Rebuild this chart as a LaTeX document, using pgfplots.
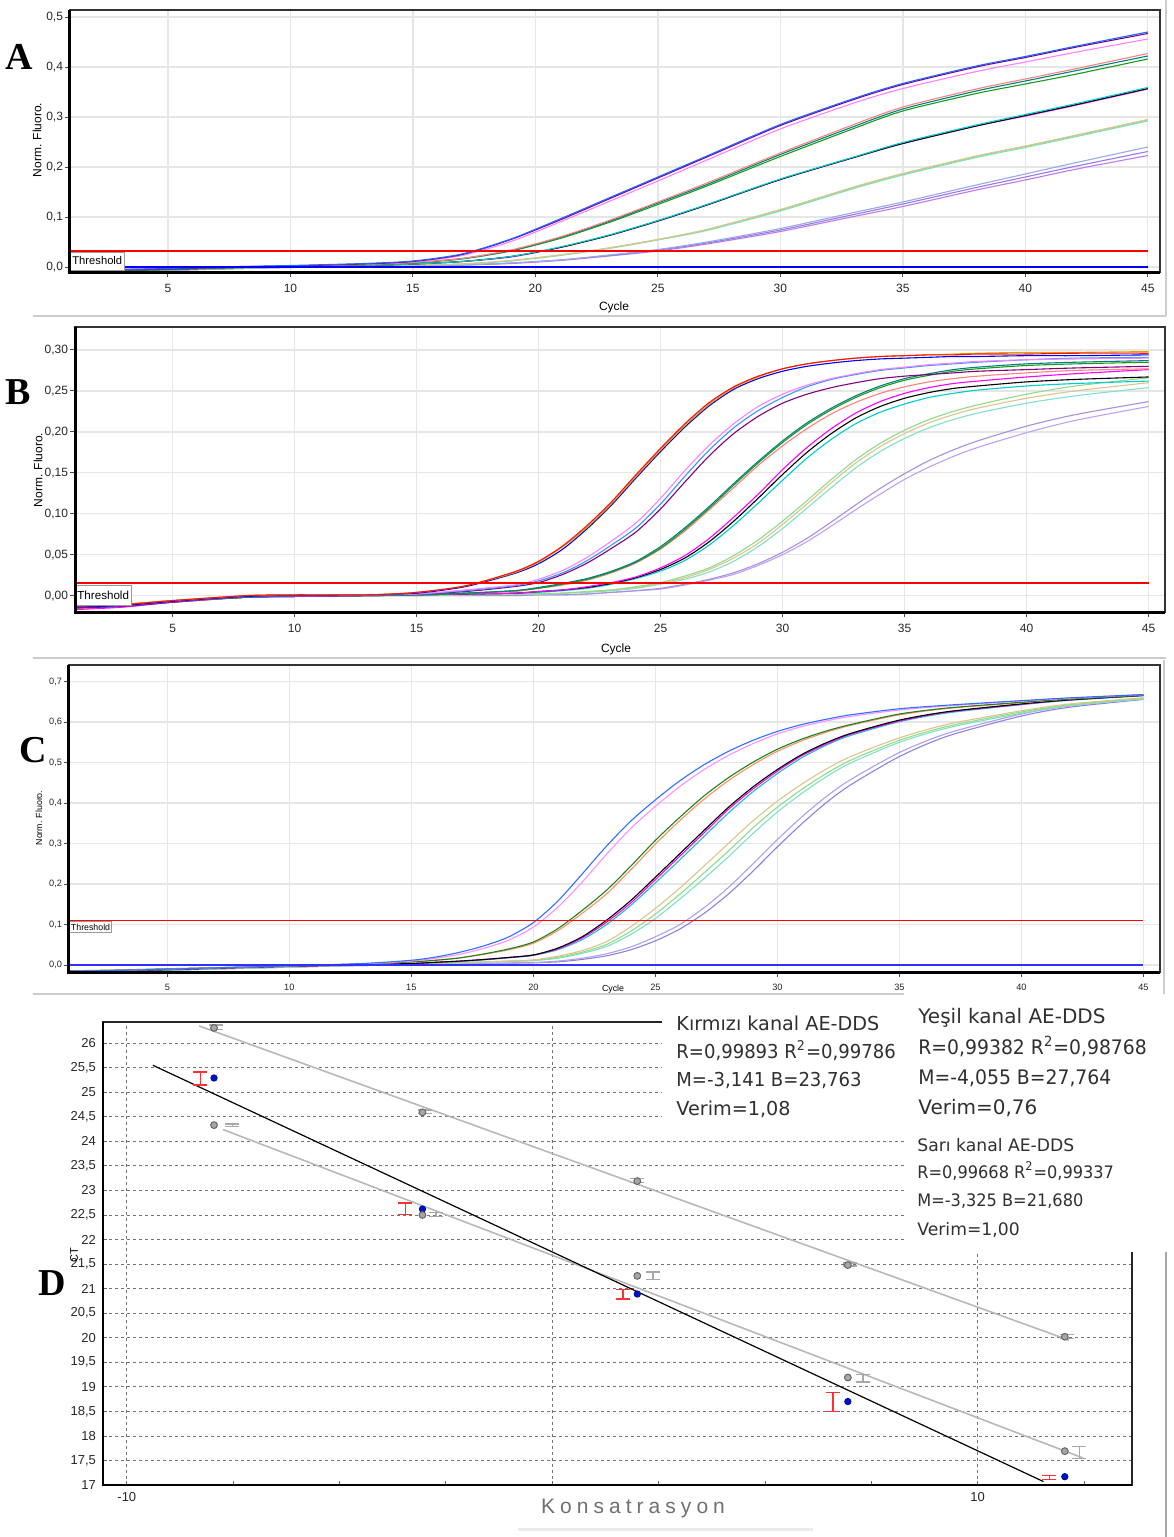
\documentclass[border=0pt]{standalone}
\usepackage{fontspec}
\setmainfont{Liberation Sans}
\newfontfamily\serifbf{Liberation Serif}
\newfontfamily\dejavu{DejaVu Sans}
\newfontfamily\dejavuc{DejaVu Sans}[FakeStretch=0.94]
\newfontfamily\konsfont{Liberation Sans}[LetterSpace=24]
\usepackage{pgfplots}
\usepackage{pgfplotstable}
\pgfplotsset{compat=1.18}

\definecolor{gridgray}{HTML}{E6E6E6}
\definecolor{thr}{RGB}{255,0,0}
% panel A
\definecolor{aBlue}{HTML}{1E64FF}\definecolor{aPurple}{HTML}{800080}\definecolor{aPink}{HTML}{FF80FF}
\definecolor{bSalmon}{HTML}{FF8080}\definecolor{bTeal}{HTML}{008080}\definecolor{bGreen}{HTML}{1A9A1A}
\definecolor{cCyan}{HTML}{00CCCC}\definecolor{cMag}{HTML}{FF00FF}
\definecolor{dTan}{HTML}{DCC48C}\definecolor{dLGreen}{HTML}{8CDC8C}\definecolor{dAqua}{HTML}{80E0C8}
\definecolor{eLBlue}{HTML}{96AAE6}\definecolor{eMPurple}{HTML}{9A78DC}\definecolor{eViolet}{HTML}{BE78F0}
% panel B
\definecolor{rRed}{HTML}{FF1010}\definecolor{rGold}{HTML}{D4A800}\definecolor{rBlue}{HTML}{0000FF}\definecolor{pDodger}{HTML}{3399FF}
\definecolor{lLav}{HTML}{A890E0}\definecolor{lPlum}{HTML}{C0A0F0}
% panel C
\definecolor{gaBlue}{HTML}{3070FF}\definecolor{gbPink}{HTML}{FF90FF}\definecolor{haGreen}{HTML}{208020}
\definecolor{hbSalmon}{HTML}{FF9060}\definecolor{icCyan}{HTML}{20C0C0}\definecolor{kaLav}{HTML}{B0A0E8}
\definecolor{kbMP}{HTML}{9080E0}\definecolor{ntc}{HTML}{3030FF}
% panel D
\definecolor{lineGray}{HTML}{B8B8B8}\definecolor{errRed}{HTML}{FF3030}\definecolor{errGray}{HTML}{A8A8A8}
\definecolor{ptBlue}{HTML}{0010D0}\definecolor{konsGray}{HTML}{707070}\definecolor{txtGray}{HTML}{303030}

\pgfplotstableread{
x a1 a2 a3 b1 b2 b3 c1 c2 c3 d1 d2 d3 e1 e2 e3
1 -0.006 -0.007 -0.005 -0.006 -0.007 -0.008 -0.007 -0.008 -0.006 -0.008 -0.009 -0.007 -0.009 -0.010 -0.008
3 -0.005 -0.006 -0.004 -0.005 -0.006 -0.007 -0.006 -0.007 -0.005 -0.007 -0.008 -0.006 -0.008 -0.009 -0.007
5 -0.003 -0.004 -0.003 -0.003 -0.004 -0.005 -0.004 -0.005 -0.004 -0.005 -0.006 -0.005 -0.006 -0.007 -0.006
8 0.001 0.000 0.001 0.000 0.000 -0.001 -0.001 -0.001 0.000 -0.002 -0.002 -0.001 -0.003 -0.003 -0.002
10 0.003 0.002 0.002 0.002 0.002 0.001 0.001 0.001 0.001 0.000 0.000 0.001 -0.001 -0.001 0.000
13 0.007 0.006 0.006 0.005 0.005 0.004 0.003 0.003 0.003 0.002 0.002 0.002 0.001 0.001 0.001
15 0.012 0.011 0.010 0.009 0.009 0.008 0.006 0.006 0.006 0.004 0.004 0.004 0.002 0.002 0.002
17 0.026 0.025 0.023 0.017 0.017 0.016 0.011 0.011 0.011 0.006 0.006 0.006 0.004 0.004 0.004
19 0.056 0.055 0.051 0.034 0.033 0.032 0.021 0.021 0.020 0.013 0.013 0.012 0.008 0.008 0.007
21 0.096 0.094 0.090 0.060 0.059 0.057 0.040 0.039 0.039 0.024 0.024 0.023 0.014 0.014 0.013
23 0.138 0.136 0.131 0.093 0.091 0.089 0.064 0.063 0.063 0.038 0.038 0.037 0.024 0.023 0.022
25 0.180 0.178 0.172 0.130 0.128 0.125 0.093 0.092 0.092 0.055 0.055 0.054 0.035 0.034 0.032
27 0.222 0.220 0.214 0.168 0.165 0.162 0.125 0.124 0.124 0.075 0.075 0.073 0.050 0.048 0.046
30 0.285 0.283 0.276 0.228 0.225 0.221 0.176 0.175 0.175 0.115 0.114 0.112 0.077 0.074 0.071
33 0.337 0.335 0.328 0.285 0.281 0.277 0.220 0.219 0.219 0.160 0.159 0.157 0.109 0.105 0.101
35 0.367 0.365 0.357 0.320 0.316 0.312 0.249 0.247 0.247 0.187 0.186 0.184 0.130 0.126 0.121
38 0.402 0.400 0.391 0.356 0.352 0.347 0.284 0.282 0.282 0.222 0.221 0.219 0.164 0.159 0.154
40 0.421 0.419 0.410 0.376 0.372 0.366 0.305 0.303 0.302 0.242 0.241 0.239 0.186 0.180 0.174
42 0.441 0.439 0.429 0.396 0.392 0.385 0.326 0.324 0.323 0.263 0.262 0.260 0.208 0.201 0.195
45 0.470 0.467 0.456 0.427 0.422 0.416 0.359 0.357 0.356 0.295 0.294 0.292 0.240 0.231 0.223
}\tabA

\pgfplotstableread{
x r1 r2 r3 p1 p2 p3 t1 t2 t3 m1 m2 m3 l1 l2 l3 v1 v2
1 -0.013 -0.012 -0.014 -0.013 -0.014 -0.015 -0.015 -0.014 -0.016 -0.017 -0.016 -0.015 -0.014 -0.013 -0.015 -0.015 -0.016
3 -0.011 -0.010 -0.012 -0.012 -0.012 -0.013 -0.012 -0.012 -0.013 -0.014 -0.013 -0.012 -0.011 -0.011 -0.012 -0.012 -0.013
5 -0.006 -0.006 -0.007 -0.007 -0.007 -0.008 -0.007 -0.007 -0.008 -0.008 -0.008 -0.007 -0.006 -0.006 -0.007 -0.007 -0.007
8 0.000 0.000 -0.001 -0.001 -0.001 -0.001 -0.002 -0.002 -0.002 -0.002 -0.002 -0.002 -0.002 -0.002 -0.002 -0.002 -0.002
10 0.001 0.001 0.000 0.000 0.000 0.000 0.000 0.000 0.000 -0.001 -0.001 -0.001 -0.001 -0.001 -0.001 -0.001 -0.001
13 0.001 0.001 0.001 0.001 0.001 0.001 0.000 0.000 0.000 0.000 0.000 0.000 0.000 0.000 0.000 0.000 0.000
15 0.004 0.004 0.003 0.002 0.002 0.002 0.001 0.001 0.001 0.001 0.001 0.001 0.000 0.000 0.000 0.000 0.000
17 0.012 0.012 0.011 0.007 0.006 0.005 0.003 0.003 0.003 0.002 0.002 0.002 0.001 0.001 0.001 0.000 0.000
19 0.029 0.028 0.027 0.013 0.012 0.011 0.006 0.006 0.005 0.003 0.003 0.003 0.002 0.002 0.002 0.000 0.000
20 0.042 0.041 0.039 0.020 0.018 0.016 0.010 0.009 0.009 0.005 0.005 0.004 0.002 0.002 0.002 0.001 0.001
21 0.061 0.060 0.057 0.031 0.028 0.026 0.015 0.014 0.013 0.007 0.007 0.006 0.003 0.003 0.003 0.001 0.001
22 0.086 0.084 0.082 0.047 0.043 0.040 0.021 0.020 0.019 0.011 0.010 0.009 0.005 0.004 0.005 0.002 0.002
23 0.115 0.113 0.111 0.067 0.062 0.058 0.030 0.029 0.028 0.016 0.015 0.014 0.007 0.006 0.007 0.004 0.004
24 0.148 0.146 0.144 0.089 0.083 0.078 0.042 0.041 0.040 0.023 0.022 0.021 0.011 0.009 0.010 0.006 0.006
25 0.180 0.178 0.176 0.119 0.112 0.106 0.060 0.058 0.057 0.034 0.032 0.030 0.016 0.014 0.015 0.009 0.008
26 0.210 0.208 0.206 0.153 0.146 0.139 0.083 0.081 0.079 0.049 0.046 0.043 0.024 0.020 0.022 0.014 0.013
27 0.236 0.234 0.232 0.184 0.178 0.171 0.109 0.107 0.105 0.070 0.066 0.062 0.034 0.029 0.032 0.020 0.019
28 0.255 0.254 0.252 0.210 0.205 0.198 0.137 0.135 0.132 0.096 0.091 0.086 0.049 0.042 0.046 0.028 0.026
29 0.268 0.267 0.265 0.231 0.226 0.219 0.164 0.162 0.159 0.124 0.119 0.113 0.068 0.060 0.064 0.039 0.037
30 0.277 0.277 0.274 0.246 0.242 0.235 0.189 0.187 0.183 0.154 0.148 0.141 0.091 0.082 0.087 0.053 0.050
31 0.283 0.283 0.280 0.257 0.255 0.246 0.211 0.209 0.204 0.181 0.175 0.168 0.116 0.107 0.112 0.070 0.066
32 0.287 0.287 0.284 0.265 0.264 0.254 0.229 0.227 0.222 0.204 0.198 0.191 0.142 0.132 0.138 0.090 0.085
33 0.290 0.290 0.287 0.271 0.270 0.260 0.244 0.242 0.236 0.223 0.217 0.210 0.166 0.156 0.162 0.111 0.105
34 0.292 0.292 0.289 0.276 0.275 0.265 0.256 0.254 0.247 0.237 0.231 0.224 0.186 0.176 0.182 0.131 0.124
35 0.293 0.293 0.290 0.279 0.278 0.268 0.265 0.263 0.255 0.247 0.241 0.234 0.202 0.192 0.198 0.149 0.142
36 0.294 0.294 0.291 0.282 0.281 0.270 0.271 0.269 0.261 0.254 0.248 0.242 0.215 0.205 0.211 0.165 0.157
37 0.294 0.295 0.292 0.284 0.283 0.272 0.276 0.274 0.265 0.259 0.253 0.247 0.225 0.215 0.221 0.178 0.170
38 0.295 0.296 0.292 0.286 0.285 0.274 0.279 0.277 0.268 0.262 0.256 0.251 0.233 0.223 0.229 0.189 0.181
40 0.295 0.297 0.293 0.288 0.288 0.276 0.283 0.281 0.272 0.267 0.261 0.256 0.246 0.235 0.241 0.207 0.199
42 0.296 0.297 0.293 0.289 0.290 0.278 0.285 0.283 0.275 0.271 0.264 0.259 0.256 0.244 0.250 0.221 0.214
45 0.296 0.298 0.294 0.290 0.291 0.280 0.287 0.285 0.277 0.276 0.267 0.262 0.266 0.254 0.260 0.237 0.231
}\tabB

\pgfplotstableread{
x ga gb ha hb ia ib ic ja jb jc ka kb
1 -0.015 -0.015 -0.014 -0.015 -0.016 -0.016 -0.017 -0.016 -0.017 -0.017 -0.017 -0.018
3 -0.013 -0.013 -0.012 -0.013 -0.014 -0.014 -0.015 -0.014 -0.015 -0.015 -0.015 -0.016
5 -0.010 -0.010 -0.009 -0.010 -0.011 -0.011 -0.012 -0.011 -0.012 -0.012 -0.012 -0.013
8 -0.005 -0.005 -0.005 -0.005 -0.006 -0.006 -0.006 -0.007 -0.007 -0.008 -0.008 -0.008
10 -0.002 -0.002 -0.002 -0.002 -0.003 -0.003 -0.003 -0.004 -0.004 -0.005 -0.005 -0.005
13 0.004 0.003 0.003 0.003 0.001 0.001 0.001 0.000 0.000 0.000 -0.001 -0.001
15 0.012 0.010 0.008 0.008 0.004 0.004 0.004 0.002 0.002 0.002 0.000 0.000
16 0.020 0.017 0.012 0.012 0.007 0.007 0.006 0.004 0.004 0.003 0.002 0.002
17 0.032 0.027 0.018 0.018 0.010 0.010 0.009 0.006 0.006 0.005 0.003 0.003
18 0.048 0.042 0.028 0.027 0.014 0.014 0.013 0.008 0.008 0.007 0.004 0.004
19 0.070 0.062 0.040 0.038 0.019 0.019 0.018 0.010 0.010 0.009 0.005 0.005
20 0.105 0.094 0.057 0.054 0.025 0.025 0.024 0.013 0.012 0.011 0.006 0.006
21 0.158 0.143 0.090 0.085 0.042 0.040 0.038 0.022 0.019 0.017 0.010 0.008
22 0.225 0.205 0.135 0.128 0.070 0.067 0.063 0.036 0.032 0.029 0.017 0.014
23 0.294 0.274 0.185 0.176 0.111 0.106 0.100 0.058 0.051 0.046 0.028 0.023
24 0.356 0.338 0.245 0.236 0.160 0.154 0.148 0.095 0.084 0.076 0.045 0.038
25 0.408 0.392 0.308 0.299 0.217 0.211 0.203 0.140 0.126 0.115 0.070 0.060
26 0.455 0.441 0.365 0.357 0.275 0.269 0.260 0.190 0.175 0.163 0.100 0.089
27 0.495 0.483 0.418 0.410 0.333 0.327 0.318 0.245 0.228 0.214 0.142 0.128
28 0.528 0.518 0.463 0.456 0.390 0.385 0.376 0.301 0.282 0.268 0.192 0.176
29 0.555 0.547 0.501 0.495 0.440 0.435 0.428 0.356 0.339 0.325 0.250 0.232
30 0.577 0.571 0.533 0.528 0.483 0.479 0.473 0.405 0.390 0.378 0.310 0.292
31 0.594 0.589 0.558 0.554 0.520 0.517 0.512 0.447 0.434 0.424 0.366 0.349
32 0.607 0.603 0.578 0.575 0.549 0.546 0.543 0.484 0.473 0.465 0.416 0.401
33 0.618 0.614 0.594 0.592 0.572 0.570 0.567 0.515 0.506 0.499 0.458 0.445
35 0.633 0.630 0.620 0.618 0.605 0.603 0.601 0.561 0.555 0.550 0.525 0.515
37 0.642 0.640 0.635 0.634 0.626 0.625 0.623 0.595 0.590 0.586 0.573 0.566
40 0.653 0.652 0.649 0.648 0.645 0.644 0.643 0.628 0.625 0.622 0.620 0.615
42 0.660 0.659 0.657 0.657 0.655 0.655 0.654 0.645 0.643 0.641 0.640 0.637
45 0.668 0.668 0.667 0.667 0.666 0.666 0.665 0.660 0.659 0.657 0.658 0.656
}\tabC

\pgfplotsset{
  qpcr/.style={
    scale only axis, anchor=north west,
    axis line style={black!80, line width=0.6pt},
    grid=major, grid style={gridgray, line width=0.7pt},
    tick align=outside, xtick pos=left, ytick pos=left,
    major tick length=2.5pt, tick style={black!70, line width=0.5pt},
    tick label style={font=\fontsize{6}{7}\selectfont, text=black!85},
    yticklabel style={inner xsep=0.8pt},
    /pgf/number format/assume math mode=true,
    no markers, clip mode=individual,
    every axis plot/.append style={line width=0.55pt, smooth, tension=0.45},
  },
}

\begin{document}
\begin{tikzpicture}
\path[use as bounding box] (0pt,0pt) rectangle (586.5pt,-768.5pt);

% ---------------- Panel A ----------------
\begin{axis}[qpcr, at={(35pt,-5pt)}, width=545pt, height=131pt,
  xmin=1, xmax=45.5, ymin=-0.01, ymax=0.514,
  xtick={5,10,15,20,25,30,35,40,45},
  ytick={0,0.1,0.2,0.3,0.4,0.5},
  yticklabels={{0,0},{0,1},{0,2},{0,3},{0,4},{0,5}}]
\addplot[eViolet] table[x=x,y=e3]{\tabA};
\addplot[eMPurple] table[x=x,y=e2]{\tabA};
\addplot[eLBlue] table[x=x,y=e1]{\tabA};
\addplot[dAqua] table[x=x,y=d3]{\tabA};
\addplot[dLGreen] table[x=x,y=d2]{\tabA};
\addplot[dTan] table[x=x,y=d1]{\tabA};
\addplot[cMag] table[x=x,y=c3]{\tabA};
\addplot[black] table[x=x,y=c2]{\tabA};
\addplot[cCyan] table[x=x,y=c1]{\tabA};
\addplot[bGreen] table[x=x,y=b3]{\tabA};
\addplot[bTeal] table[x=x,y=b2]{\tabA};
\addplot[bSalmon] table[x=x,y=b1]{\tabA};
\addplot[aPink] table[x=x,y=a3]{\tabA};
\addplot[aPurple] table[x=x,y=a2]{\tabA};
\addplot[aBlue] table[x=x,y=a1]{\tabA};
\addplot[color=rBlue, line width=0.8pt, sharp plot] coordinates {(1,0) (45,0)};
\addplot[color=thr, line width=0.6pt, sharp plot] coordinates {(1,0.032) (45,0.032)};
\node[anchor=north west, draw=black!40, fill=white, inner sep=1pt, minimum height=9pt,
  font=\fontsize{5.6}{6}\selectfont] at (axis cs:1,0.031) {Threshold};
\draw[black, line width=1.5pt] (rel axis cs:0,1) -- (rel axis cs:0,0) -- (rel axis cs:1,0);
\end{axis}

% ---------------- Panel B ----------------
\begin{axis}[qpcr, at={(37.5pt,-163.5pt)}, width=545pt, height=142.5pt,
  xmin=1, xmax=45.67, ymin=-0.02, ymax=0.328,
  xtick={5,10,15,20,25,30,35,40,45},
  ytick={0,0.05,0.1,0.15,0.2,0.25,0.3},
  yticklabels={{0,00},{0,05},{0,10},{0,15},{0,20},{0,25},{0,30}}]
\addplot[lPlum] table[x=x,y=v2]{\tabB};
\addplot[lLav] table[x=x,y=v1]{\tabB};
\addplot[dAqua] table[x=x,y=l2]{\tabB};
\addplot[dTan] table[x=x,y=l3]{\tabB};
\addplot[dLGreen] table[x=x,y=l1]{\tabB};
\addplot[cCyan] table[x=x,y=m3]{\tabB};
\addplot[black] table[x=x,y=m2]{\tabB};
\addplot[cMag] table[x=x,y=m1]{\tabB};
\addplot[bSalmon] table[x=x,y=t3]{\tabB};
\addplot[bGreen] table[x=x,y=t2]{\tabB};
\addplot[bTeal] table[x=x,y=t1]{\tabB};
\addplot[aPurple] table[x=x,y=p3]{\tabB};
\addplot[pDodger] table[x=x,y=p2]{\tabB};
\addplot[aPink] table[x=x,y=p1]{\tabB};
\addplot[rBlue] table[x=x,y=r3]{\tabB};
\addplot[rGold] table[x=x,y=r2]{\tabB};
\addplot[rRed] table[x=x,y=r1]{\tabB};
\addplot[color=thr, line width=0.9pt, sharp plot] coordinates {(1,0.0155) (45,0.0155)};
\node[anchor=north west, draw=black!40, fill=white, inner sep=1pt, minimum height=10pt,
  font=\fontsize{5.8}{6}\selectfont] at (axis cs:1,0.0135) {Threshold};
\draw[black, line width=1.5pt] (rel axis cs:0,1) -- (rel axis cs:0,0) -- (rel axis cs:1,0);
\end{axis}

% ---------------- Panel C ----------------
\begin{axis}[qpcr, at={(34.5pt,-332.5pt)}, width=545.5pt, height=153.5pt,
  xmin=0.97, xmax=45.68, ymin=-0.017, ymax=0.741,
  xtick={5,10,15,20,25,30,35,40,45},
  ytick={0,0.1,0.2,0.3,0.4,0.5,0.6,0.7},
  yticklabels={{0,0},{0,1},{0,2},{0,3},{0,4},{0,5},{0,6},{0,7}},
  tick label style={font=\fontsize{4.6}{5}\selectfont, text=black!85}]
\addplot[kbMP] table[x=x,y=kb]{\tabC};
\addplot[kaLav] table[x=x,y=ka]{\tabC};
\addplot[dAqua] table[x=x,y=jc]{\tabC};
\addplot[dLGreen] table[x=x,y=jb]{\tabC};
\addplot[dTan] table[x=x,y=ja]{\tabC};
\addplot[icCyan] table[x=x,y=ic]{\tabC};
\addplot[cMag] table[x=x,y=ib]{\tabC};
\addplot[black] table[x=x,y=ia]{\tabC};
\addplot[hbSalmon] table[x=x,y=hb]{\tabC};
\addplot[haGreen] table[x=x,y=ha]{\tabC};
\addplot[gbPink] table[x=x,y=gb]{\tabC};
\addplot[gaBlue] table[x=x,y=ga]{\tabC};
\addplot[color=ntc, line width=0.7pt, sharp plot] coordinates {(1,0) (45,0)};
\addplot[color=thr, line width=0.5pt, sharp plot] coordinates {(1,0.111) (45,0.111)};
\node[anchor=north west, draw=black!40, fill=white, inner sep=0.8pt, minimum height=5.5pt,
  font=\fontsize{4.4}{5}\selectfont] at (axis cs:0.97,0.109) {Threshold};
\draw[black, line width=1.5pt] (rel axis cs:0,1) -- (rel axis cs:0,0) -- (rel axis cs:1,0);
\end{axis}

% ---------------- Panel D ----------------
\begin{axis}[scale only axis, anchor=north west, at={(51.5pt,-511pt)}, width=514.5pt, height=231.5pt,
  xmin=-10.56, xmax=13.63, ymin=17, ymax=26.43,
  axis line style={black!85, line width=0.8pt},
  xtick={-10,0,10}, xticklabels={-10,,10},
  minor xtick={-7.5,-5,-2.5,2.5,5,7.5,12.5},
  ytick={17,17.5,18,18.5,19,19.5,20,20.5,21,21.5,22,22.5,23,23.5,24,24.5,25,25.5,26},
  yticklabels={{17},{17,5},{18},{18,5},{19},{19,5},{20},{20,5},{21},{21,5},{22},{22,5},{23},{23,5},{24},{24,5},{25},{25,5},{26}},
  xmajorgrids, ymajorgrids,
  grid style={black!55, line width=0.4pt, dash pattern=on 1.6pt off 1.4pt},
  tick align=inside, xtick pos=left, ytick pos=left,
  major tick length=2pt, minor tick length=2pt,
  tick style={black!60, line width=0.4pt},
  tick label style={font=\fontsize{6.5}{7}\selectfont, text=black!85},
  clip mode=individual]
\addplot[lineGray, line width=0.8pt] coordinates {(-8.3,26.35) (12.15,19.95)};
\addplot[lineGray, line width=0.8pt] coordinates {(-7.74,24.24) (12.48,17.55)};
\addplot[black, line width=0.6pt] coordinates {(-9.39,25.55) (11.55,17.07)};
% error bars, red channel
\addplot[draw=none, no markers, error bars/.cd, y dir=both, y explicit,
  error bar style={draw=errRed, solid, line width=0.7pt},
  error mark options={rotate=90, draw=errRed, mark size=3.5pt, line width=0.7pt}]
  coordinates {(-8.27,25.28) +- (0,0.13) (-3.45,22.625) +- (0,0.115) (1.66,20.885) +- (0,0.095) (6.6,18.69) +- (0,0.19) (11.69,17.155) +- (0,0.045)};
% error bars, yellow channel
\addplot[draw=none, no markers, error bars/.cd, y dir=both, y explicit,
  error bar style={draw=errGray, solid, line width=0.7pt},
  error mark options={rotate=90, draw=errGray, mark size=3.5pt, line width=0.7pt}]
  coordinates {(-7.52,24.33) +- (0,0.025) (-2.73,22.51) +- (0,0.04) (2.37,21.265) +- (0,0.075) (7.31,19.175) +- (0,0.075) (12.39,17.665) +- (0,0.125)};
% error bars, green channel
\addplot[draw=none, no markers, error bars/.cd, y dir=both, y explicit,
  error bar style={draw=errGray, solid, line width=0.6pt},
  error mark options={rotate=90, draw=errGray, mark size=3.5pt, line width=0.6pt}]
  coordinates {(-7.9,26.32) +- (0,0.05) (-3.0,24.6) +- (0,0.04) (2.0,23.2) +- (0,0.04) (7.0,21.49) +- (0,0.03) (12.1,20.03) +- (0,0.04)};
% points
\addplot[only marks, mark=*, mark size=1.6pt, mark options={fill=ptBlue, draw=ptBlue!70!black}]
  coordinates {(-7.95,25.29) (-3.05,22.62) (2,20.89) (6.95,18.70) (12.05,17.17)};
\addplot[only marks, mark=*, mark size=1.7pt, mark options={fill=gray!70, draw=black!60, line width=0.5pt}]
  coordinates {(-7.95,24.33) (-3.05,22.50) (2,21.26) (6.95,19.19) (12.05,17.69)};
\addplot[only marks, mark=*, mark size=1.7pt, mark options={fill=gray!70, draw=black!60, line width=0.5pt}]
  coordinates {(-7.95,26.31) (-3.05,24.59) (2,23.19) (6.95,21.48) (12.05,20.02)};
\draw[black, line width=1.0pt] (rel axis cs:0,1) -- (rel axis cs:0,0) -- (rel axis cs:1,0);
\end{axis}

% white boxes covering panel D top right
\fill[white] (331pt,-499pt) rectangle (586.5pt,-564pt);
\fill[white] (452.5pt,-564pt) rectangle (586.5pt,-626pt);

% equation texts
\begin{scope}[every node/.style={anchor=base west, inner sep=0pt, text=txtGray}]
\node[font=\dejavu\fontsize{9.6}{11}\selectfont] at (338pt,-515pt) {Kırmızı kanal AE-DDS};
\node[font=\dejavuc\fontsize{9.6}{11}\selectfont] at (338pt,-529pt) {R=0,99893 R\textsuperscript{2}=0,99786};
\node[font=\dejavuc\fontsize{9.6}{11}\selectfont] at (338pt,-543pt) {M=-3,141 B=23,763};
\node[font=\dejavu\fontsize{9.6}{11}\selectfont] at (338pt,-557.5pt) {Verim=1,08};
\node[font=\dejavu\fontsize{10}{11}\selectfont] at (459pt,-511.5pt) {Yeşil kanal AE-DDS};
\node[font=\dejavuc\fontsize{10}{11}\selectfont] at (459pt,-527pt) {R=0,99382 R\textsuperscript{2}=0,98768};
\node[font=\dejavuc\fontsize{10}{11}\selectfont] at (459pt,-542pt) {M=-4,055 B=27,764};
\node[font=\dejavu\fontsize{10}{11}\selectfont] at (459pt,-557pt) {Verim=0,76};
\node[font=\dejavu\fontsize{8.6}{10}\selectfont] at (458.5pt,-575.5pt) {Sarı kanal AE-DDS};
\node[font=\dejavuc\fontsize{8.6}{10}\selectfont] at (458.5pt,-589pt) {R=0,99668 R\textsuperscript{2}=0,99337};
\node[font=\dejavuc\fontsize{8.6}{10}\selectfont] at (458.5pt,-603pt) {M=-3,325 B=21,680};
\node[font=\dejavu\fontsize{8.6}{10}\selectfont] at (458.5pt,-617.5pt) {Verim=1,00};
\end{scope}

% separators
\draw[black!20, line width=0.8pt] (16.5pt,-158pt) -- (583pt,-158pt);
\draw[black!20, line width=0.8pt] (583pt,0pt) -- (583pt,-158pt);
\draw[black!20, line width=0.8pt] (16.5pt,-329pt) -- (583pt,-329pt);
\draw[black!20, line width=0.8pt] (16.5pt,-497pt) -- (452pt,-497pt);
\draw[black!20, line width=0.8pt] (582pt,-330pt) -- (582pt,-497pt);
\draw[black!35, line width=0.8pt] (583pt,-626pt) -- (583pt,-768.5pt);
\draw[black!8, line width=1.5pt] (259pt,-764.5pt) -- (406.5pt,-764.5pt);

% axis titles
\node[rotate=90, font=\fontsize{6}{7}\selectfont] at (18.5pt,-70pt) {Norm. Fluoro.};
\node[font=\fontsize{6}{7}\selectfont] at (307pt,-153.5pt) {Cycle};
\node[rotate=90, font=\fontsize{6}{7}\selectfont] at (19pt,-235pt) {Norm. Fluoro.};
\node[font=\fontsize{6}{7}\selectfont] at (308pt,-324.5pt) {Cycle};
\node[rotate=90, font=\fontsize{4.4}{5}\selectfont] at (19.5pt,-409pt) {Norm. Fluoro.};
\node[font=\fontsize{4.4}{5}\selectfont] at (306.5pt,-494.5pt) {Cycle};
\node[rotate=90, font=\fontsize{5.5}{6}\selectfont] at (37pt,-627.5pt) {CT};
\node[anchor=base, text=konsGray, font=\konsfont\fontsize{10.5}{12}\selectfont] at (316.5pt,-756.5pt) {Konsatrasyon};

% panel letters
\node[font=\serifbf\bfseries\fontsize{19}{19}\selectfont] at (9.5pt,-28.5pt) {A};
\node[font=\serifbf\bfseries\fontsize{19}{19}\selectfont] at (9pt,-196pt) {B};
\node[font=\serifbf\bfseries\fontsize{19}{19}\selectfont] at (16.5pt,-375pt) {C};
\node[font=\serifbf\bfseries\fontsize{19}{19}\selectfont] at (26pt,-641.5pt) {D};
\end{tikzpicture}
\end{document}
